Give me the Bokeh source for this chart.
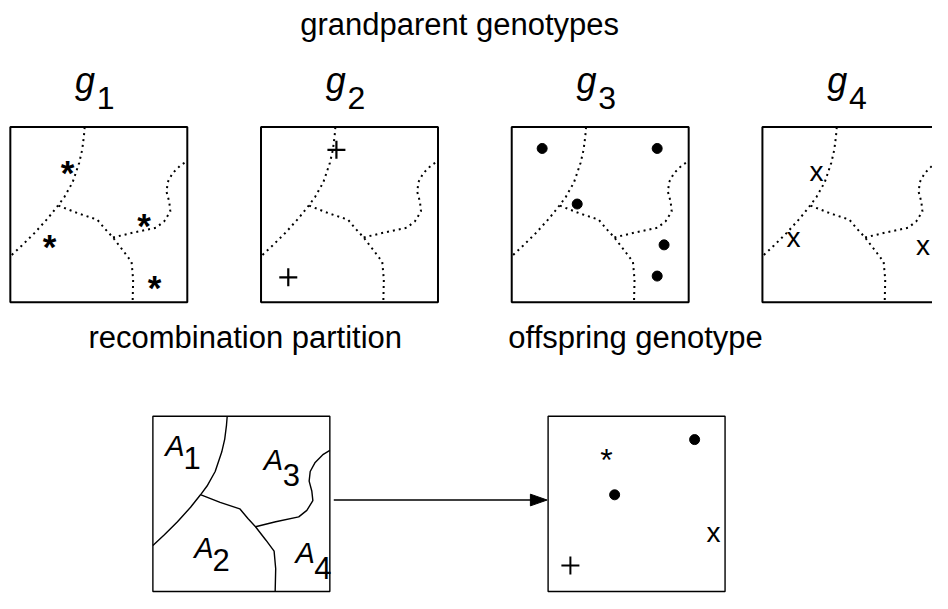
from bokeh.plotting import figure
from bokeh.models import Range1d
from bokeh.core.properties import value
from bokeh.embed import file_html
from bokeh.resources import INLINE

# ---------------- data ----------------
title_top = "grandparent genotypes"
title_partition = "recombination partition"
title_offspring = "offspring genotype"
genotype_letter = ["g", "g", "g", "g"]
genotype_index = ["1", "2", "3", "4"]
region_letter = ["A", "A", "A", "A"]
region_index = ["1", "3", "2", "4"]
# label anchors inside the partition square (unit coords, y up)
region_A_u = [0.125, 0.681, 0.289, 0.861]
region_A_v = [0.833, 0.750, 0.250, 0.222]
region_i_u = [0.222, 0.783, 0.386, 0.961]
region_i_v = [0.761, 0.667, 0.178, 0.133]

# partition boundaries in a unit square (u right, v up)
b1_u = [0.420, 0.416, 0.406, 0.389, 0.352, 0.306, 0.269, 0.213, 0.139, 0.065, 0.0]
b1_v = [1.000, 0.950, 0.870, 0.796, 0.685, 0.602, 0.552, 0.481, 0.398, 0.324, 0.263]
b2_u = [0.272, 0.380, 0.491, 0.537, 0.580, 0.639, 0.685, 0.694, 0.691]
b2_v = [0.552, 0.509, 0.472, 0.417, 0.370, 0.293, 0.231, 0.130, 0.000]
b3_u = [0.580, 0.694, 0.824, 0.870, 0.904, 0.898, 0.883, 0.889, 0.917, 0.963, 1.000]
b3_v = [0.370, 0.398, 0.426, 0.463, 0.519, 0.574, 0.630, 0.685, 0.737, 0.783, 0.806]

# loci of each grandparent genotype (unit coords)
g1_star_u = [0.324, 0.756, 0.222, 0.815]
g1_star_v = [0.852, 0.552, 0.430, 0.194]
g2_plus_u = [0.426, 0.154]
g2_plus_v = [0.870, 0.143]
g3_dot_u = [0.172, 0.822, 0.370, 0.861, 0.822]
g3_dot_v = [0.878, 0.878, 0.561, 0.328, 0.150]
g4_x_u = [0.306, 0.176, 0.907]
g4_x_v = [0.787, 0.407, 0.361]

# offspring genotype loci
off_star_u = [0.330]
off_star_v = [0.852]
off_dot_u = [0.828, 0.376]
off_dot_v = [0.867, 0.552]
off_x_u = [0.935]
off_x_v = [0.374]
off_plus_u = [0.126]
off_plus_v = [0.148]

# ---------------- layout ----------------
S = 180
top_lefts = [10, 265, 520, 775]
top_top = 130
bot_lefts = [155, 557]
bot_top = 427
FONT = value("Liberation Sans")


def px(us, left):
    return [left + u * S for u in us]


def py(vs, top):
    return [top + (1 - v) * S for v in vs]


p = figure(width=932, height=593, x_range=Range1d(0, 948), y_range=Range1d(609, 0),
           output_backend="svg", toolbar_location=None, min_border=0,
           x_axis_type=None, y_axis_type=None)
p.outline_line_color = None
p.background_fill_color = "white"
p.border_fill_color = "white"
p.grid.visible = False

# titles
p.text(x=[467], y=[25], text=[title_top], text_font=FONT, text_font_size="31px",
       text_align="center", text_baseline="alphabetic", text_color="black")
p.text(x=[249], y=[346], text=[title_partition], text_font=FONT, text_font_size="31px",
       text_align="center", text_baseline="alphabetic", text_color="black")
p.text(x=[646], y=[346], text=[title_offspring], text_font=FONT, text_font_size="31px",
       text_align="center", text_baseline="alphabetic", text_color="black")

# grandparent labels
p.text(x=[l + 76 for l in top_lefts], y=[82] * 4, text=genotype_letter, text_font=FONT,
       text_font_size="36px", text_font_style="italic", text_align="center",
       text_baseline="alphabetic", text_color="black")
p.text(x=[l + 97 for l in top_lefts], y=[100] * 4, text=genotype_index, text_font=FONT,
       text_font_size="32px", text_align="center", text_baseline="alphabetic",
       text_color="black")

# top boxes
p.quad(left=top_lefts, right=[l + S for l in top_lefts], top=[top_top] * 4,
       bottom=[top_top + S] * 4, fill_color=None, line_color="black", line_width=2)

# dotted partition in each grandparent box
xs, ys = [], []
for l in top_lefts:
    for bu, bv in ((b1_u, b1_v), (b2_u, b2_v), (b3_u, b3_v)):
        xs.append(px(bu, l))
        ys.append(py(bv, top_top))
p.multi_line(xs=xs, ys=ys, line_color="black", line_width=2, line_dash="2 4")

# markers in grandparent boxes
l1, l2, l3, l4 = top_lefts
p.text(x=px(g1_star_u, l1), y=[y + 20 for y in py(g1_star_v, top_top)], text=["*"] * len(g1_star_u),
       text_font=FONT, text_font_size="35px", text_font_style="bold", text_align="center",
       text_baseline="alphabetic", text_color="black")
p.scatter(x=px(g2_plus_u, l2), y=py(g2_plus_v, top_top), marker="cross", size=18,
          line_color="black", line_width=2.2)
p.scatter(x=px(g3_dot_u, l3), y=py(g3_dot_v, top_top), marker="circle", size=10,
          fill_color="black", line_color="black")
p.text(x=px(g4_x_u, l4), y=[y + 7 for y in py(g4_x_v, top_top)], text=["x"] * len(g4_x_u),
       text_font=FONT, text_font_size="28px", text_align="center", text_baseline="alphabetic",
       text_color="black")

# bottom boxes
p.quad(left=bot_lefts, right=[l + S for l in bot_lefts], top=[bot_top] * 2,
       bottom=[bot_top + S] * 2, fill_color=None, line_color="black", line_width=1.4)

# solid partition
lp = bot_lefts[0]
p.multi_line(xs=[px(b1_u, lp), px(b2_u, lp), px(b3_u, lp)],
             ys=[py(b1_v, bot_top), py(b2_v, bot_top), py(b3_v, bot_top)],
             line_color="black", line_width=1.4)

# region labels
p.text(x=px(region_A_u, lp), y=py(region_A_v, bot_top), text=region_letter, text_font=FONT,
       text_font_size="29px", text_font_style="italic", text_align="center",
       text_baseline="alphabetic", text_color="black")
p.text(x=px(region_i_u, lp), y=py(region_i_v, bot_top), text=region_index, text_font=FONT,
       text_font_size="31px", text_align="center", text_baseline="alphabetic",
       text_color="black")

# offspring markers
lo = bot_lefts[1]
p.text(x=px(off_star_u, lo), y=[y + 18 for y in py(off_star_v, bot_top)], text=["*"],
       text_font=FONT, text_font_size="32px", text_align="center", text_baseline="alphabetic",
       text_color="black")
p.scatter(x=px(off_dot_u, lo), y=py(off_dot_v, bot_top), marker="circle", size=10,
          fill_color="black", line_color="black")
p.text(x=px(off_x_u, lo), y=[y + 7 for y in py(off_x_v, bot_top)], text=["x"],
       text_font=FONT, text_font_size="28px", text_align="center", text_baseline="alphabetic",
       text_color="black")
p.scatter(x=px(off_plus_u, lo), y=py(off_plus_v, bot_top), marker="cross", size=18,
          line_color="black", line_width=2)

# arrow
ay = bot_top + 86
x0 = bot_lefts[0] + S + 4
x1 = bot_lefts[1] - 1
head = 17
p.segment(x0=[x0], y0=[ay], x1=[x1 - head + 2], y1=[ay], line_color="black", line_width=1.4)
p.patch(x=[x1 - head, x1, x1 - head], y=[ay - 6, ay, ay + 6], fill_color="black",
        line_color="black", line_width=1)

open("out.html", "w").write(file_html(p, INLINE))
